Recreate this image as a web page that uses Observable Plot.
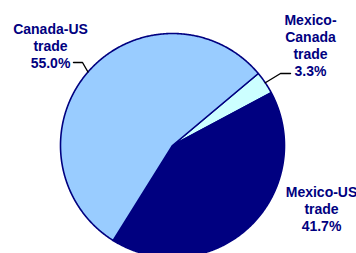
<!DOCTYPE html>
<html>
<head>
<meta charset="utf-8">
<script src="https://cdn.jsdelivr.net/npm/d3@7"></script>
<script src="https://cdn.jsdelivr.net/npm/@observablehq/plot@0.6"></script>
<style>
  html, body { margin: 0; padding: 0; background: #ffffff; }
  #chart { width: 356px; height: 253px; overflow: hidden; }
</style>
</head>
<body>
<div id="chart"></div>
<script>
// ---- Data ----
const categories = ["Mexico-Canada trade", "Mexico-US trade", "Canada-US trade"];
const shares = [3.3, 41.7, 55.0];
const labelLines = ["Mexico-\nCanada\ntrade", "Mexico-US\ntrade", "Canada-US\ntrade"];
const sliceColors = ["#CCFFFF", "#000080", "#99CCFF"];

// ---- Layout (pixels) ----
const W = 356, H = 253;
const cx = 172, cy = 145, R = 112;
const startDeg = 50;
// label anchor (center x, top y), and leader elbow/end (null = no leader)
const labelPos = [
  {x: 310, y: 13, leader: [[280, 73], [290, 73]]},
  {x: 321, y: 185, leader: null},
  {x: 50, y: 21.5, leader: [[82, 62], [73, 62]]}
];

const rows = categories.map((c, i) => ({name: c, share: shares[i], label: labelLines[i] + "\n" + shares[i].toFixed(1) + "%"}));
const arcs = d3.pie().sort(null).value(d => d.share)
  .startAngle(startDeg * Math.PI / 180)
  .endAngle(startDeg * Math.PI / 180 + 2 * Math.PI)(rows);

const pt = a => [cx + R * Math.sin(a), cy - R * Math.cos(a)];

const slicePts = [];
arcs.forEach(a => {
  slicePts.push({name: a.data.name, x: cx, y: cy});
  const n = Math.max(2, Math.ceil((a.endAngle - a.startAngle) / (Math.PI / 360)));
  for (let k = 0; k <= n; k++) {
    const t = a.startAngle + (a.endAngle - a.startAngle) * k / n;
    const [x, y] = pt(t);
    slicePts.push({name: a.data.name, x, y});
  }
});

const labels = arcs.map((a, i) => ({...labelPos[i], text: a.data.label, name: a.data.name}));

const leaderPts = [];
arcs.forEach((a, i) => {
  const lp = labelPos[i];
  if (!lp.leader) return;
  const mid = (a.startAngle + a.endAngle) / 2;
  const [x0, y0] = pt(mid);
  leaderPts.push({name: a.data.name, x: x0, y: y0});
  lp.leader.forEach(([x, y]) => leaderPts.push({name: a.data.name, x, y}));
});

const chart = Plot.plot({
  width: W,
  height: H,
  margin: 0,
  x: {domain: [0, W], range: [0, W], axis: null},
  y: {domain: [0, H], range: [0, H], axis: null},
  color: {domain: categories, range: sliceColors},
  style: {background: "#ffffff", fontFamily: "'Liberation Sans', Arial, sans-serif"},
  marks: [
    Plot.line(slicePts, {x: "x", y: "y", z: "name", fill: "name", stroke: "#000080", strokeWidth: 1.6, curve: "linear-closed", strokeLinejoin: "round"}),
    Plot.line(leaderPts, {x: "x", y: "y", z: "name", stroke: "#000000", strokeWidth: 1.4}),
    Plot.text(labels, {
      x: "x", y: "y", text: "text",
      fill: "#000080", fontWeight: "bold", fontSize: 14,
      lineAnchor: "top", lineHeight: 1.2, textAnchor: "middle"
    })
  ]
});
document.getElementById("chart").appendChild(chart);
</script>
</body>
</html>
